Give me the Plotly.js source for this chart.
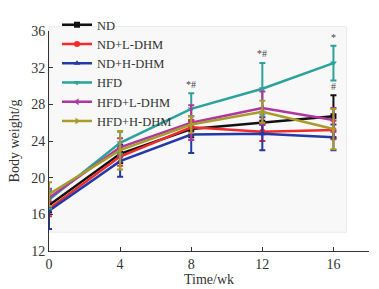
<!DOCTYPE html>
<html><head><meta charset="utf-8">
<script src="https://cdn.plot.ly/plotly-3.0.1.min.js"></script>
<style>html,body{margin:0;padding:0;background:#fff}#chart{width:379px;height:289px}</style>
</head><body><div id="chart"></div>
<script>
const weeks = [0, 4, 8, 12, 16];
const seriesNames = ["ND", "ND+L-DHM", "ND+H-DHM", "HFD", "HFD+L-DHM", "HFD+H-DHM"];
const nd      = [17.0, 22.6, 25.3, 26.0, 26.7];
const ndL     = [16.6, 22.3, 25.5, 25.0, 25.2];
const ndH     = [16.4, 21.8, 24.7, 24.8, 24.4];
const hfd     = [17.6, 23.8, 27.5, 29.7, 32.5];
const hfdL    = [17.8, 23.3, 26.0, 27.6, 26.3];
const hfdH    = [18.2, 23.0, 25.8, 27.2, 25.3];
const ndErr   = [0.8, 1.0, 0.9, 1.2, 2.3];
const ndLErr  = [0.8, 1.0, 0.8, 1.0, 1.0];
const ndHErr  = [2.0, 1.7, 2.0, 1.8, 1.4];
const hfdErr  = [1.0, 1.2, 1.7, 2.8, 1.9];
const hfdLErr = [1.0, 1.0, 1.9, 1.8, 1.3];
const hfdHErr = [1.3, 2.1, 0.9, 1.2, 2.2];
const sigText = ["*#", "*#", "*", "#"];
const sigX    = [8, 12, 16, 16];
const sigY    = [30.2, 33.5, 35.3, 29.9];

const values = [nd, ndL, ndH, hfd, hfdL, hfdH];
const errs = [ndErr, ndLErr, ndHErr, hfdErr, hfdLErr, hfdHErr];
const colors = ["#111111", "#f22a2a", "#2438a8", "#2aa39c", "#b0359f", "#a89c2c"];
const symbols = ["square", "circle", "triangle-up", "triangle-down", "triangle-left", "triangle-right"];

const traces = seriesNames.map((n, i) => ({
  type: "scatter", mode: "lines+markers", name: n,
  x: weeks, y: values[i],
  line: {color: colors[i], width: 2.5},
  marker: {symbol: symbols[i], size: 6, color: colors[i]},
  error_y: {type: "data", array: errs[i], visible: true, color: colors[i], thickness: 2, width: 3}
}));

const serif = "Liberation Serif";
const txt = "#333";
const layout = {
  width: 379, height: 289,
  margin: {l: 49, r: 10, t: 26, b: 38},
  paper_bgcolor: "#ffffff", plot_bgcolor: "rgba(0,0,0,0)",
  font: {family: serif, size: 14, color: txt},
  showlegend: true,
  legend: {x: 0.025, y: 1.095, xanchor: "left", yanchor: "top", bgcolor: "rgba(0,0,0,0)",
           font: {family: serif, size: 12.5, color: txt}, tracegroupgap: 0, itemwidth: 30},
  xaxis: {range: [0, 18], tickvals: weeks, ticktext: weeks.map(String),
          showline: true, linecolor: "#333", linewidth: 1, ticks: "inside", ticklen: 4, tickcolor: "#333",
          showgrid: false, zeroline: false, tickfont: {family: serif, size: 14, color: txt},
          title: {text: "Time/wk", font: {family: serif, size: 14, color: txt}, standoff: 1}},
  yaxis: {range: [12, 36], tickvals: [12, 16, 20, 24, 28, 32, 36],
          showline: true, linecolor: "#333", linewidth: 1, ticks: "inside", ticklen: 4, tickcolor: "#333",
          showgrid: false, zeroline: false, tickfont: {family: serif, size: 14, color: txt},
          title: {text: "Body weight/g", font: {family: serif, size: 14, color: txt}, standoff: 8}},
  shapes: [{type: "rect", xref: "paper", yref: "paper", x0: 0, x1: 0.93, y0: 0.085, y1: 1.02,
            fillcolor: "#f8f8f8", line: {color: "#ececec", width: 1}, layer: "below"}],
  annotations: sigText.map((t, i) => ({x: sigX[i], y: sigY[i], text: t, showarrow: false,
            font: {family: serif, size: 10, color: "#444"}}))
};
Plotly.newPlot("chart", traces, layout, {displayModeBar: false, staticPlot: true});
</script></body></html>
